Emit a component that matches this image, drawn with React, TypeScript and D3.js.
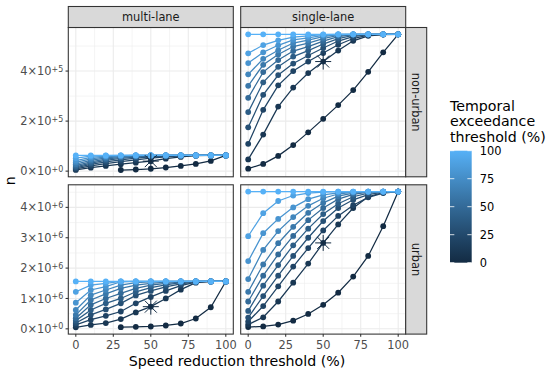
import * as d3 from 'd3';

const speedThresholds = [0, 10, 20, 30, 40, 50, 60, 70, 80, 90, 100];
const temporalThresholds = [0, 10, 20, 30, 40, 50, 60, 70, 80, 90, 100];
const laneTypes = ['multi-lane', 'single-lane'];
const areaTypes = ['non-urban', 'urban'];

// one row per temporal threshold (0..100), one column per speed threshold (0..100)
// non-urban values in units of 1e5
const multiNonUrban: (number | null)[][] = [
  [null, null, null, 0.045, 0.065, 0.095, 0.145, 0.21, 0.29, 0.41, 0.63],
  [0.05, 0.14, 0.21, 0.28, 0.34, 0.4, 0.5, 0.57, 0.62, 0.63, 0.63],
  [0.09, 0.21, 0.3, 0.38, 0.45, 0.52, 0.57, 0.61, 0.63, 0.63, 0.63],
  [0.13, 0.27, 0.37, 0.45, 0.52, 0.57, 0.6, 0.62, 0.63, 0.63, 0.63],
  [0.17, 0.32, 0.43, 0.51, 0.56, 0.6, 0.62, 0.63, 0.63, 0.63, 0.63],
  [0.22, 0.37, 0.48, 0.55, 0.59, 0.62, 0.63, 0.63, 0.63, 0.63, 0.63],
  [0.28, 0.43, 0.53, 0.58, 0.61, 0.63, 0.63, 0.63, 0.63, 0.63, 0.63],
  [0.35, 0.49, 0.57, 0.61, 0.63, 0.63, 0.63, 0.63, 0.63, 0.63, 0.63],
  [0.42, 0.55, 0.6, 0.62, 0.63, 0.63, 0.63, 0.63, 0.63, 0.63, 0.63],
  [0.52, 0.6, 0.62, 0.63, 0.63, 0.63, 0.63, 0.63, 0.63, 0.63, 0.63],
  [0.63, 0.63, 0.63, 0.63, 0.63, 0.63, 0.63, 0.63, 0.63, 0.63, 0.63],
];

const singleNonUrban: (number | null)[][] = [
  [0.1, 0.29, 0.61, 1.04, 1.55, 2.09, 2.64, 3.24, 3.97, 4.75, 5.47],
  [0.47, 1.46, 2.58, 3.34, 3.92, 4.38, 4.82, 5.21, 5.41, 5.46, 5.47],
  [1.09, 2.45, 3.43, 4.0, 4.38, 4.72, 5.05, 5.3, 5.44, 5.47, 5.47],
  [1.75, 3.05, 3.84, 4.3, 4.62, 4.92, 5.2, 5.38, 5.46, 5.47, 5.47],
  [2.36, 3.55, 4.17, 4.58, 4.82, 5.08, 5.3, 5.43, 5.47, 5.47, 5.47],
  [2.93, 3.96, 4.44, 4.8, 4.98, 5.2, 5.38, 5.46, 5.47, 5.47, 5.47],
  [3.41, 4.25, 4.66, 4.98, 5.12, 5.3, 5.43, 5.47, 5.47, 5.47, 5.47],
  [3.87, 4.49, 4.83, 5.12, 5.24, 5.38, 5.46, 5.47, 5.47, 5.47, 5.47],
  [4.32, 4.75, 5.03, 5.25, 5.33, 5.43, 5.47, 5.47, 5.47, 5.47, 5.47],
  [4.71, 5.04, 5.23, 5.36, 5.41, 5.46, 5.47, 5.47, 5.47, 5.47, 5.47],
  [5.47, 5.47, 5.47, 5.47, 5.47, 5.47, 5.47, 5.47, 5.47, 5.47, 5.47],
];

// urban values in units of 1e6
const multiUrban: (number | null)[][] = [
  [null, null, null, 0.055, 0.066, 0.077, 0.11, 0.175, 0.34, 0.71, 1.56],
  [0.05, 0.13, 0.19, 0.32, 0.54, 0.73, 1.0, 1.29, 1.52, 1.56, 1.56],
  [0.13, 0.3, 0.43, 0.57, 0.84, 1.05, 1.25, 1.42, 1.54, 1.56, 1.56],
  [0.19, 0.46, 0.64, 0.84, 1.1, 1.25, 1.38, 1.48, 1.55, 1.56, 1.56],
  [0.27, 0.62, 0.84, 1.0, 1.22, 1.36, 1.45, 1.52, 1.56, 1.56, 1.56],
  [0.35, 0.79, 1.0, 1.17, 1.33, 1.44, 1.5, 1.54, 1.56, 1.56, 1.56],
  [0.46, 0.95, 1.15, 1.33, 1.44, 1.5, 1.54, 1.56, 1.56, 1.56, 1.56],
  [0.62, 1.11, 1.28, 1.44, 1.52, 1.55, 1.56, 1.56, 1.56, 1.56, 1.56],
  [0.86, 1.28, 1.39, 1.55, 1.56, 1.56, 1.56, 1.56, 1.56, 1.56, 1.56],
  [1.22, 1.44, 1.5, 1.56, 1.56, 1.56, 1.56, 1.56, 1.56, 1.56, 1.56],
  [1.56, 1.56, 1.56, 1.56, 1.56, 1.56, 1.56, 1.56, 1.56, 1.56, 1.56],
];

const singleUrban: (number | null)[][] = [
  [0.06, 0.08, 0.14, 0.27, 0.49, 0.79, 1.19, 1.72, 2.4, 3.38, 4.52],
  [0.14, 0.38, 0.9, 1.52, 2.15, 2.83, 3.44, 3.98, 4.35, 4.49, 4.52],
  [0.24, 0.75, 1.4, 2.05, 2.66, 3.24, 3.72, 4.07, 4.33, 4.47, 4.52],
  [0.37, 1.08, 1.75, 2.4, 3.0, 3.55, 3.98, 4.25, 4.42, 4.5, 4.52],
  [0.59, 1.42, 2.1, 2.75, 3.3, 3.78, 4.12, 4.35, 4.47, 4.51, 4.52],
  [0.9, 1.75, 2.45, 3.06, 3.58, 3.98, 4.27, 4.43, 4.5, 4.52, 4.52],
  [1.22, 2.12, 2.82, 3.36, 3.82, 4.15, 4.37, 4.47, 4.51, 4.52, 4.52],
  [1.64, 2.6, 3.22, 3.68, 4.05, 4.3, 4.44, 4.5, 4.52, 4.52, 4.52],
  [2.23, 3.15, 3.62, 4.0, 4.27, 4.41, 4.48, 4.51, 4.52, 4.52, 4.52],
  [3.05, 3.81, 4.21, 4.39, 4.47, 4.5, 4.52, 4.52, 4.52, 4.52, 4.52],
  [4.52, 4.52, 4.52, 4.52, 4.52, 4.52, 4.52, 4.52, 4.52, 4.52, 4.52],
];

const rowUnits = [1e5, 1e6];
const rowTicks = [
  [0, 2e5, 4e5],
  [0, 1e6, 2e6, 3e6, 4e6],
];
const speedTicks = [0, 25, 50, 75, 100];
const legendTicks = [0, 25, 50, 75, 100];
const starSpeed = 50;
const starTemporal = 10;

const FONT = 'DejaVu Sans, sans-serif';

const sciParts = (v: number) => {
  if (v === 0) return ['0', '+0'];
  const e = Math.floor(Math.log10(v));
  return [String(Math.round(v / 10 ** e)), '+' + e];
};

const expand = (lo: number, hi: number) => {
  const pad = (hi - lo) * 0.05;
  return [lo - pad, hi + pad];
};

const minorBreaks = (ticks: number[], domain: number[]) => {
  const step = ticks[1] - ticks[0];
  const out: number[] = [];
  for (let i = -1; i < ticks.length; i++) {
    const v = ticks[0] + (i + 0.5) * step;
    if (v > domain[0] && v < domain[1]) out.push(v);
  }
  return out;
};

export default function App() {
  const W = 550;
  const H = 374;
  const colX = [68.3, 240.7];
  const panelW = 165;
  const rowY = [27.5, 184.8];
  const panelH = 149.3;
  const stripT = 21;

  const grid = [
    [multiNonUrban, singleNonUrban],
    [multiUrban, singleUrban],
  ];

  const color = d3
    .scaleLinear<string>()
    .domain([0, 100])
    .range(['#132B43', '#56B1F7'])
    .interpolate(d3.interpolateLab);

  const xDomain = expand(d3.min(speedThresholds)!, d3.max(speedThresholds)!);
  const xScales = colX.map((x0) => d3.scaleLinear().domain(xDomain).range([x0, x0 + panelW]));

  const yScales = rowY.map((y0, r) => {
    const vals = grid[r].flat(2).filter((v) => v != null) as number[];
    const dom = expand(d3.min(vals)! * rowUnits[r], d3.max(vals)! * rowUnits[r]);
    return d3.scaleLinear().domain(dom).range([y0 + panelH, y0]);
  });

  const xMinor = minorBreaks(speedTicks, xDomain);

  const panels: JSX.Element[] = [];
  grid.forEach((row, r) => {
    row.forEach((table, c) => {
      const x = xScales[c];
      const y = yScales[r];
      const unit = rowUnits[r];
      const x0 = colX[c];
      const y0 = rowY[r];
      const yMinor = minorBreaks(rowTicks[r], y.domain());
      const series = temporalThresholds.map((t, i) => ({
        t,
        pts: speedThresholds.map((s, j) => [s, table[i][j] == null ? null : (table[i][j] as number) * unit] as [number, number | null]),
      }));
      const line = d3
        .line<[number, number | null]>()
        .defined((d) => d[1] != null)
        .x((d) => x(d[0]))
        .y((d) => y(d[1] as number));
      const starVal = (table[temporalThresholds.indexOf(starTemporal)][speedThresholds.indexOf(starSpeed)] as number) * unit;
      const sx = x(starSpeed);
      const sy = y(starVal);
      const sr = 8;
      panels.push(
        <g key={`p${r}${c}`}>
          <rect x={x0} y={y0} width={panelW} height={panelH} fill="#fff" />
          {yMinor.map((v) => (
            <line key={`ym${v}`} x1={x0} x2={x0 + panelW} y1={y(v)} y2={y(v)} stroke="#EBEBEB" strokeWidth={0.55} />
          ))}
          {xMinor.map((v) => (
            <line key={`xm${v}`} x1={x(v)} x2={x(v)} y1={y0} y2={y0 + panelH} stroke="#EBEBEB" strokeWidth={0.55} />
          ))}
          {rowTicks[r].map((v) => (
            <line key={`yg${v}`} x1={x0} x2={x0 + panelW} y1={y(v)} y2={y(v)} stroke="#EBEBEB" strokeWidth={1.07} />
          ))}
          {speedTicks.map((v) => (
            <line key={`xg${v}`} x1={x(v)} x2={x(v)} y1={y0} y2={y0 + panelH} stroke="#EBEBEB" strokeWidth={1.07} />
          ))}
          {series.map((s) => (
            <path key={`l${s.t}`} d={line(s.pts) || ''} fill="none" stroke={color(s.t)} strokeWidth={1.25} />
          ))}
          {series.map((s) =>
            s.pts
              .filter((p) => p[1] != null)
              .map((p) => <circle key={`c${s.t}-${p[0]}`} cx={x(p[0])} cy={y(p[1] as number)} r={2.9} fill={color(s.t)} />)
          )}
          <g stroke={color(0)} strokeWidth={1}>
            <line x1={sx - sr} x2={sx + sr} y1={sy} y2={sy} />
            <line x1={sx} x2={sx} y1={sy - sr} y2={sy + sr} />
            <line x1={sx - sr * 0.75} x2={sx + sr * 0.75} y1={sy - sr * 0.75} y2={sy + sr * 0.75} />
            <line x1={sx - sr * 0.75} x2={sx + sr * 0.75} y1={sy + sr * 0.75} y2={sy - sr * 0.75} />
          </g>
          <rect x={x0} y={y0} width={panelW} height={panelH} fill="none" stroke="#333" strokeWidth={1.07} />
        </g>
      );
    });
  });

  // legend
  const legX = 450;
  const barW = 21.7;
  const legScale = d3.scaleLinear().domain([0, 100]).range([262.7, 150.7]);
  const stops = d3.range(0, 101, 10);

  return (
    <svg width={W} height={H} style={{ position: 'absolute', left: 0, top: 0, fontFamily: FONT }}>
      <rect width={W} height={H} fill="#fff" />
      <defs>
        <linearGradient id="legGrad" x1="0" y1="1" x2="0" y2="0">
          {stops.map((s) => (
            <stop key={s} offset={`${s}%`} stopColor={color(s)} />
          ))}
        </linearGradient>
      </defs>

      {panels}

      {/* top strips */}
      {laneTypes.map((lab, c) => (
        <g key={lab}>
          <rect x={colX[c]} y={rowY[0] - stripT} width={panelW} height={stripT} fill="#D9D9D9" stroke="#333" strokeWidth={1.07} />
          <text x={colX[c] + panelW / 2} y={rowY[0] - stripT / 2} dy="0.36em" textAnchor="middle" fontSize={11.4} fill="#1A1A1A">
            {lab}
          </text>
        </g>
      ))}

      {/* right strips */}
      {areaTypes.map((lab, r) => {
        const sx = colX[1] + panelW;
        const cy = rowY[r] + panelH / 2;
        return (
          <g key={lab}>
            <rect x={sx} y={rowY[r]} width={stripT} height={panelH} fill="#D9D9D9" stroke="#333" strokeWidth={1.07} />
            <text transform={`translate(${sx + stripT / 2},${cy}) rotate(90)`} dy="0.36em" textAnchor="middle" fontSize={11.4} fill="#1A1A1A">
              {lab}
            </text>
          </g>
        );
      })}

      {/* y axes */}
      {yScales.map((y, r) => (
        <g key={`ya${r}`}>
          {rowTicks[r].map((v) => {
            const [m, e] = sciParts(v);
            return (
              <g key={v}>
                <line x1={colX[0] - 2.75} x2={colX[0]} y1={y(v)} y2={y(v)} stroke="#333" strokeWidth={1.07} />
                <text x={colX[0] - 5} y={y(v)} dy="0.36em" textAnchor="end" fontSize={11.4} fill="#4D4D4D">
                  <tspan>{m}×10</tspan>
                  <tspan dy="-0.45em" fontSize={8}>
                    {e}
                  </tspan>
                </text>
              </g>
            );
          })}
        </g>
      ))}

      {/* x axes */}
      {xScales.map((x, c) => (
        <g key={`xa${c}`}>
          {speedTicks.map((v) => (
            <g key={v}>
              <line x1={x(v)} x2={x(v)} y1={rowY[1] + panelH} y2={rowY[1] + panelH + 2.75} stroke="#333" strokeWidth={1.07} />
              <text x={x(v)} y={rowY[1] + panelH + 15} textAnchor="middle" fontSize={11.4} fill="#4D4D4D">
                {v}
              </text>
            </g>
          ))}
        </g>
      ))}

      <text x={(colX[0] + colX[1] + panelW) / 2} y={366} textAnchor="middle" fontSize={14.2} fill="#000">
        Speed reduction threshold (%)
      </text>
      <text transform={`translate(15,${(rowY[0] + rowY[1] + panelH) / 2}) rotate(-90)`} textAnchor="middle" fontSize={14.2} fill="#000">
        n
      </text>

      {/* legend */}
      <text x={legX} y={110.5} fontSize={14.2} fill="#000">Temporal</text>
      <text x={legX} y={126} fontSize={14.2} fill="#000">exceedance</text>
      <text x={legX} y={141.5} fontSize={14.2} fill="#000">threshold (%)</text>
      <rect x={legX} y={legScale(100)} width={barW} height={legScale(0) - legScale(100)} fill="url(#legGrad)" />
      {legendTicks.map((v) => (
        <g key={`lt${v}`}>
          <line x1={legX} x2={legX + barW / 5} y1={legScale(v)} y2={legScale(v)} stroke="#fff" strokeWidth={0.8} />
          <line x1={legX + barW - barW / 5} x2={legX + barW} y1={legScale(v)} y2={legScale(v)} stroke="#fff" strokeWidth={0.8} />
          <text x={legX + barW + 8} y={legScale(v)} dy="0.36em" fontSize={11.4} fill="#000">
            {v}
          </text>
        </g>
      ))}
    </svg>
  );
}
